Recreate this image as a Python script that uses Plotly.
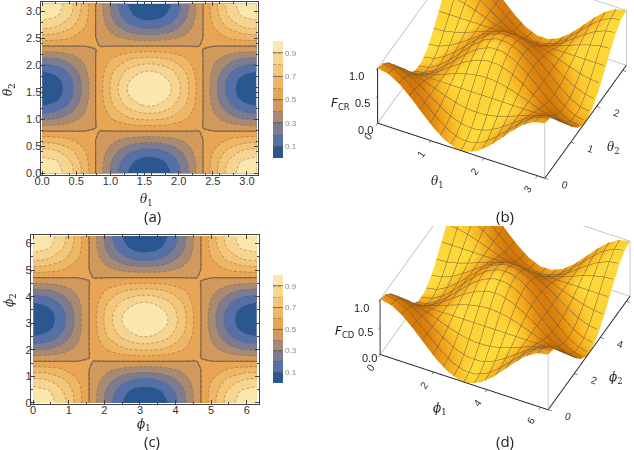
import math
import numpy as np
import plotly.graph_objects as go

# ---- data ----
theta = [k * math.pi / 15 for k in range(16)]      # theta1, theta2 grid (0..pi)
phi = [k * 2 * math.pi / 15 for k in range(16)]    # phi1, phi2 grid (0..2pi)

R0 = [1.000, 0.957, 0.835, 0.654, 0.448, 0.250, 0.096, 0.011, 0.011, 0.096, 0.250, 0.448, 0.654, 0.835, 0.957, 1.000]
R1 = [0.957, 0.917, 0.806, 0.641, 0.452, 0.272, 0.130, 0.053, 0.053, 0.130, 0.272, 0.452, 0.641, 0.806, 0.917, 0.957]
R2 = [0.835, 0.806, 0.724, 0.603, 0.465, 0.333, 0.229, 0.173, 0.173, 0.229, 0.333, 0.465, 0.603, 0.724, 0.806, 0.835]
R3 = [0.654, 0.641, 0.603, 0.548, 0.484, 0.423, 0.375, 0.349, 0.349, 0.375, 0.423, 0.484, 0.548, 0.603, 0.641, 0.654]
R4 = [0.448, 0.452, 0.465, 0.484, 0.505, 0.526, 0.542, 0.551, 0.551, 0.542, 0.526, 0.505, 0.484, 0.465, 0.452, 0.448]
R5 = [0.250, 0.272, 0.333, 0.423, 0.526, 0.625, 0.702, 0.745, 0.745, 0.702, 0.625, 0.526, 0.423, 0.333, 0.272, 0.250]
R6 = [0.096, 0.130, 0.229, 0.375, 0.542, 0.702, 0.827, 0.896, 0.896, 0.827, 0.702, 0.542, 0.375, 0.229, 0.130, 0.096]
R7 = [0.011, 0.053, 0.173, 0.349, 0.551, 0.745, 0.896, 0.978, 0.978, 0.896, 0.745, 0.551, 0.349, 0.173, 0.053, 0.011]

F_CR = [R0, R1, R2, R3, R4, R5, R6, R7, R7, R6, R5, R4, R3, R2, R1, R0]
F_CD = [R0, R1, R2, R3, R4, R5, R6, R7, R7, R6, R5, R4, R3, R2, R1, R0]

band_colors = ["#2b5790", "#5570a6", "#7c7b90", "#a88a73", "#d2995c",
               "#e8a553", "#eeb665", "#f3c679", "#f8d58f", "#fbe6ac"]
bar_ticks = [0.1, 0.3, 0.5, 0.7, 0.9]
z_ticks = [0.0, 0.5, 1.0]

PI = math.pi
FONT = "Liberation Sans"
TICKC = "#333333"

cscale = [[k / 9, c] for k, c in enumerate(band_colors)]
shade_scale = [[0.0, "#8a4500"], [0.35, "#d27408"], [0.6, "#ee9e18"],
               [0.8, "#f8b824"], [1.0, "#ffdc3c"]]


def shading(z):
    # Lambert shading of the surface in box coordinates (style only)
    zz = np.array(z) * 0.4
    h = 1.0 / (len(z) - 1)
    dzdy, dzdx = np.gradient(zz, h, h)
    nrm = np.sqrt(dzdx ** 2 + dzdy ** 2 + 1)
    light = np.array([-0.15, -0.55, 0.8])
    light = light / np.linalg.norm(light)
    return np.clip((-dzdx * light[0] - dzdy * light[1] + light[2]) / nrm, 0, 1)


def contour(x, y, z, xa, ya, cb_y, cb_len):
    return go.Contour(
        x=x, y=y, z=z, xaxis=xa, yaxis=ya,
        zmin=0, zmax=1,
        contours=dict(start=0.1, end=0.9, size=0.1, coloring="fill"),
        colorscale=cscale,
        line=dict(color="rgba(90,90,90,0.5)", width=0.8, dash="3px,2px", smoothing=1.0),
        hoverinfo="skip",
        colorbar=dict(x=273 / 634, xanchor="left", y=cb_y, yanchor="middle",
                      len=cb_len, lenmode="pixels", thickness=10, outlinewidth=0,
                      tickvals=bar_ticks, ticktext=[f"{v:.1f}" for v in bar_ticks],
                      ticks="inside", ticklen=10, tickcolor="rgba(90,90,90,0.7)",
                      tickfont=dict(family=FONT, size=8, color="#888888"), xpad=0, ypad=0),
    )


def half_line(x, y, z, xa, ya):
    return go.Contour(
        x=x, y=y, z=z, xaxis=xa, yaxis=ya, showscale=False,
        contours=dict(start=0.5, end=0.5, size=0.1, coloring="none"),
        line=dict(color="rgba(70,70,70,0.7)", width=1.0, smoothing=0),
        hoverinfo="skip",
    )


def surface(x, y, z, scene, step):
    return go.Surface(
        x=x, y=y, z=z, scene=scene, colorscale=shade_scale, surfacecolor=shading(z),
        cmin=0, cmax=1, showscale=False, hoverinfo="skip",
        lighting=dict(ambient=1.0, diffuse=0.0, specular=0.0, roughness=1.0, fresnel=0.0),
        contours=dict(
            x=dict(show=True, start=step, end=15 * step + 1e-6, size=step, color="#6b5d40", width=1),
            y=dict(show=True, start=step, end=15 * step + 1e-6, size=step, color="#6b5d40", width=1),
        ),
    )


def box_edges(x, y, scene):
    # thin grey edges of the bounding box that are not axis lines
    x0, x1, y0, y1, z0, z1 = x[0], x[-1], y[0], y[-1], z_ticks[0], z_ticks[-1]
    segs = [((x0, y0, z1), (x0, y1, z1)), ((x0, y1, z1), (x1, y1, z1)),
            ((x0, y0, z0), (x0, y1, z0)), ((x0, y1, z0), (x1, y1, z0)),
            ((x0, y1, z0), (x0, y1, z1)), ((x1, y1, z0), (x1, y1, z1)),
            ((x1, y0, z0), (x1, y0, z1))]
    xs, ys, zs = [], [], []
    for a, b in segs:
        xs += [a[0], b[0], None]
        ys += [a[1], b[1], None]
        zs += [a[2], b[2], None]
    return go.Scatter3d(x=xs, y=ys, z=zs, scene=scene, mode="lines",
                        line=dict(color="#b8b8b8", width=1.5), hoverinfo="skip", showlegend=False)


fig = go.Figure()
fig.add_trace(contour(theta, theta, F_CR, "x", "y", 1 - 99.5 / 450, 117))
fig.add_trace(half_line(theta, theta, F_CR, "x", "y"))
fig.add_trace(contour(phi, phi, F_CD, "x2", "y2", 1 - 329 / 450, 108))
fig.add_trace(half_line(phi, phi, F_CD, "x2", "y2"))
fig.add_trace(box_edges(theta, theta, "scene"))
fig.add_trace(box_edges(phi, phi, "scene2"))
fig.add_trace(surface(theta, theta, F_CR, "scene", PI / 16))
fig.add_trace(surface(phi, phi, F_CD, "scene2", PI / 8))


def frame_axis(domain, rng, tickvals, ticktext, anchor):
    return dict(
        domain=domain, range=rng, anchor=anchor, automargin=False,
        tickvals=tickvals, ticktext=ticktext,
        showgrid=False, zeroline=False,
        showline=True, linecolor="#444444", linewidth=1.2, mirror="ticks",
        ticks="inside", ticklen=4, tickcolor="#444444",
        minor=dict(ticks="inside", ticklen=2, nticks=5, tickcolor="#444444"),
        tickfont=dict(family=FONT, size=11, color=TICKC),
        ticklabelstandoff=-4,
    )


t1 = [0, 0.5, 1, 1.5, 2, 2.5, 3]
t1l = ["0.0", "0.5", "1.0", "1.5", "2.0", "2.5", "3.0"]
t2 = [0, 1, 2, 3, 4, 5, 6]
t2l = ["0", "1", "2", "3", "4", "5", "6"]

fig.update_layout(
    template="none",
    width=634, height=450, margin=dict(l=0, r=0, t=0, b=0),
    paper_bgcolor="white", plot_bgcolor="white", showlegend=False,
    xaxis=frame_axis([40.7 / 634, 258 / 634], [-0.02, PI + 0.02], t1, t1l, "y"),
    yaxis=frame_axis([1 - 174.7 / 450, 1 - 2 / 450], [-0.02, PI + 0.03], t1, t1l, "x"),
    xaxis2=frame_axis([31 / 634, 259 / 634], [-0.06, 2 * PI + 0.06], t2, t2l, "y2"),
    yaxis2=frame_axis([1 - 404 / 450, 1 - 235 / 450], [-0.04, 2 * PI + 0.04], t2, t2l, "x2"),
)


def scene_axis(rng, tickvals, ticktext, labels=True):
    return dict(
        range=rng, tickvals=tickvals, ticktext=ticktext, showticklabels=labels,
        showgrid=False, zeroline=False, showbackground=False, showspikes=False,
        showline=True, linecolor="#222222", linewidth=2,
        ticks="outside", ticklen=4, tickcolor="#222222",
        tickfont=dict(family=FONT, size=11, color=TICKC),
        title=dict(text=""),
    )


VIEW = np.array([0.3232, -0.6627, 0.6756])  # viewing direction (azimuth 26 deg, elevation 42.5 deg)
W = 1.78                                    # box size (orthographic zoom)


def camera(center):
    c = np.array(center)
    e = c + 2.0 * VIEW
    return dict(eye=dict(x=e[0], y=e[1], z=e[2]), center=dict(x=c[0], y=c[1], z=c[2]),
                up=dict(x=0, y=0, z=1), projection=dict(type="orthographic"))


zt = [f"{v:.1f}" for v in z_ticks]
fig.update_layout(
    scene=dict(domain=dict(x=[340 / 634, 1], y=[1 - 208.6 / 450, 1]),
               aspectmode="manual", aspectratio=dict(x=W, y=W, z=0.4 * W),
               camera=camera([-0.021, -0.284, -0.264]),
               xaxis=scene_axis([0, PI], [0, 1, 2, 3], ["0", "1", "2", "3"]),
               yaxis=scene_axis([0, PI], [0, 1, 2, 3], ["0", "1", "2", "3"]),
               zaxis=scene_axis([0, 1], z_ticks, zt, labels=False)),
    scene2=dict(domain=dict(x=[340 / 634, 1], y=[1 - 436 / 450, 1 - 226 / 450]),
                aspectmode="manual", aspectratio=dict(x=W, y=W, z=0.4 * W),
                camera=camera([-0.047, -0.296, -0.204]),
                xaxis=scene_axis([0, 2 * PI], [0, 2, 4, 6], ["0", "2", "4", "6"]),
                yaxis=scene_axis([0, 2 * PI], [0, 2, 4, 6], ["0", "2", "4", "6"]),
                zaxis=scene_axis([0, 1], z_ticks, zt, labels=False)),
)

labels = [
    ("(a)", 152, 216, 15, "Open Sans", 0), ("(b)", 505, 216, 15, "Open Sans", 0),
    ("(c)", 152, 441, 15, "Open Sans", 0), ("(d)", 505, 441, 15, "Open Sans", 0),
    ("<i>θ</i><sub>1</sub>", 146, 200, 12, "DejaVu Serif", 0),
    ("<i>θ</i><sub>2</sub>", 9, 90, 12, "DejaVu Serif", -90),
    ("<i>ϕ</i><sub>1</sub>", 144, 425, 12, "DejaVu Serif", 0),
    ("<i>ϕ</i><sub>2</sub>", 10, 300, 12, "DejaVu Serif", -90),
    ("<i>F</i><sub>CR</sub>", 340, 104, 12, "DejaVu Sans", 0),
    ("<i>θ</i><sub>1</sub>", 437, 182, 12, "DejaVu Serif", 0),
    ("<i>θ</i><sub>2</sub>", 613, 148, 12, "DejaVu Serif", 0),
    ("<i>F</i><sub>CD</sub>", 344, 332, 12, "DejaVu Sans", 0),
    ("<i>ϕ</i><sub>1</sub>", 440, 409, 12, "DejaVu Serif", 0),
    ("<i>ϕ</i><sub>2</sub>", 616, 378, 12, "DejaVu Serif", 0),
]
# z tick labels of the 3D panels
for (zx, zy), zl in zip([(365, 130), (362.5, 103), (356.5, 76)], zt):
    labels.append((zl, zx, zy, 11, FONT, 0))
for (zx, zy), zl in zip([(369, 358), (365, 332), (361, 308)], zt):
    labels.append((zl, zx, zy, 11, FONT, 0))

for txt, x, y, size, fam, ang in labels:
    fig.add_annotation(text=txt, x=x / 634, y=1 - y / 450, xref="paper", yref="paper",
                       xanchor="center", yanchor="middle",
                       showarrow=False, textangle=ang,
                       font=dict(family=fam, size=size, color="#222222"))

fig.write_html("out.html", config={"displayModeBar": False},
               post_script=["document.body.style.margin='0';"])
